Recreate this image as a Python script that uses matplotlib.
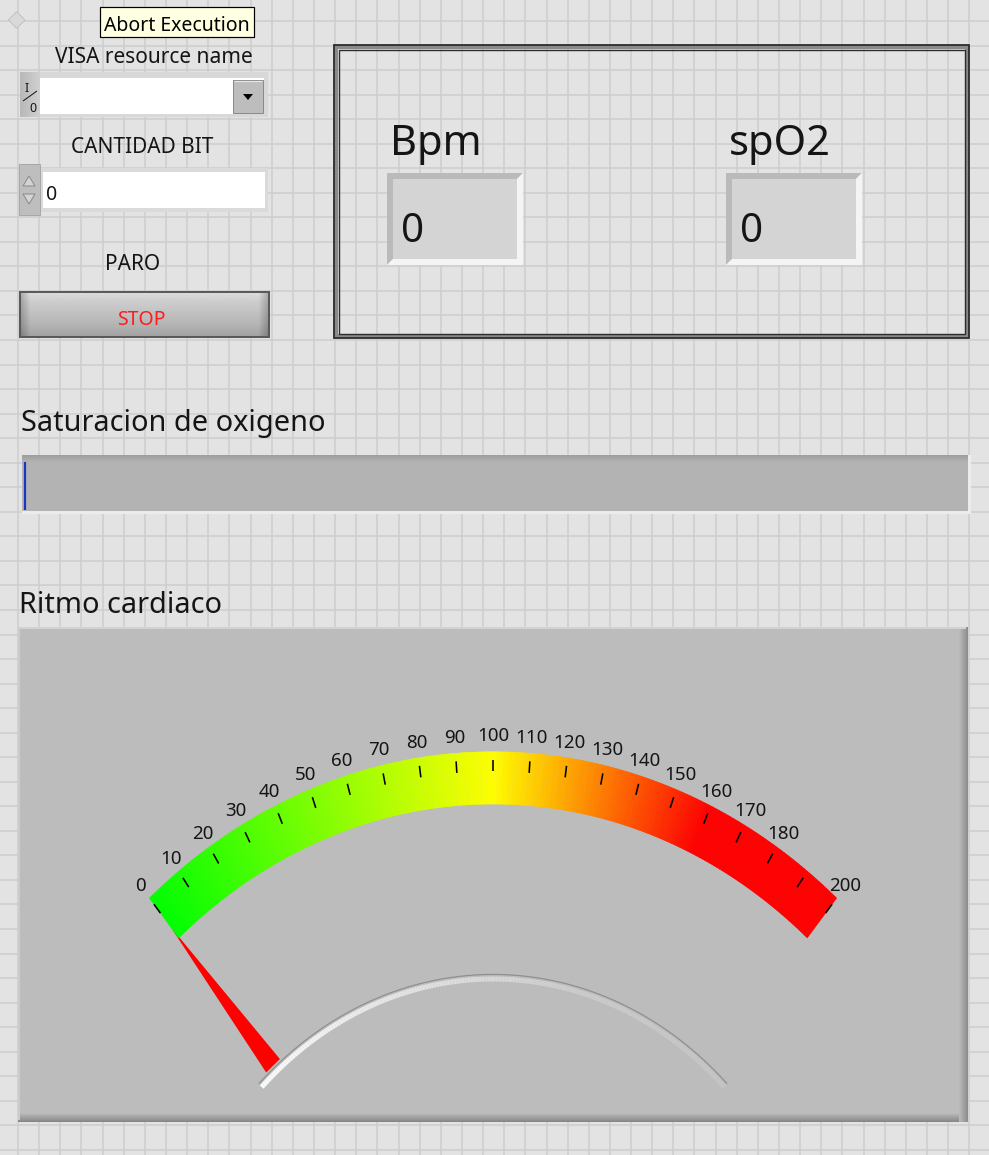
import matplotlib
matplotlib.use('Agg')
import matplotlib.pyplot as plt
import numpy as np
from matplotlib.patches import Rectangle, Polygon
from matplotlib.collections import PolyCollection, LineCollection
from matplotlib.colors import LinearSegmentedColormap, to_rgb

plt.rcParams['font.family'] = ['Noto Sans', 'DejaVu Sans']

# front panel values
tooltip_text = 'Abort Execution'
visa_label = 'VISA resource name'
bit_label = 'CANTIDAD BIT'
stop_label = 'PARO'
stop_text = 'STOP'
cantidad_bit = 0
bpm_value = 0
spo2_value = 0
saturation_value = 0
heart_rate = 0

# meter scale
scale_min, scale_max = 0, 200
scale_ticks = list(range(0, 201, 10))
scale_labels = [str(v) for v in scale_ticks]
scale_labels[19] = ''  # 190 has no label on the meter
band_stops = [0, 100, 160, 200]
band_colors = ['#00ff00', '#ffff00', '#ff0000', '#ff0000']

W, H = 989, 1155
PX = 0.72  # points per pixel at dpi 100
TXT = '#151515'

fig = plt.figure(figsize=(W / 100, H / 100), dpi=100, facecolor='#e3e3e3')
ax = fig.add_axes([0, 0, 1, 1])
ax.set_facecolor('#e3e3e3')


def box(x0, y0, x1, y1, fc, ec='none', lw=0, z=2):
    ax.add_patch(Rectangle((x0, y0), x1 - x0, y1 - y0, facecolor=fc,
                           edgecolor=ec, linewidth=lw * PX, zorder=z))


def grad(x0, y0, x1, y1, c0, c1, vertical=True, z=2):
    a, b = np.array(to_rgb(c0)), np.array(to_rgb(c1))
    f = np.linspace(0, 1, 64)[:, None]
    g = a * (1 - f) + b * f
    img = g[:, None, :] if vertical else g[None, :, :]
    ax.imshow(img, extent=(x0, x1, y1, y0), aspect='auto',
              interpolation='bilinear', zorder=z)


def line(xs, ys, c, lw, z=3):
    ax.plot(xs, ys, color=c, lw=lw * PX, zorder=z, solid_capstyle='butt')


# panel grid
ax.vlines(np.arange(18, W, 21.14), 0, H, colors='#cecece', lw=1.6 * PX, zorder=1)
ax.hlines(np.arange(21 - 24.54, H, 24.54), 0, W, colors='#cecece', lw=1.6 * PX, zorder=1)

# run arrow diamond + tooltip
ax.add_patch(Polygon([(8.4, 20), (16.7, 11.7), (25, 20), (16.7, 28.3)],
                     facecolor='#d9d9d9', edgecolor='#c2c2c2', lw=PX, zorder=2))
box(100, 7, 254, 37, '#ffffe1', 'black', 1.2, z=3)
ax.text(177, 31, tooltip_text, ha='center', va='baseline', fontsize=14, color='black', zorder=4)

# VISA resource control
ax.text(153.5, 63, visa_label, ha='center', va='baseline', fontsize=15, color=TXT, zorder=4)
box(20, 72, 268, 117, '#d8d8d8')
grad(20, 72, 40, 117, '#b8b8b8', '#d0d0d0', vertical=False)
box(40, 78, 264, 114, 'white')
box(233, 80, 263, 113, '#bdbdbd', '#8a8a8a', 1.0, z=3)
line([234, 262], [81, 81], '#e6e6e6', 1.2, z=4)
ax.add_patch(Polygon([(243, 94), (253, 94), (248, 100)], facecolor='black', zorder=4))
ax.text(27, 92, 'I', ha='center', va='baseline', fontsize=9, color=TXT, zorder=4)
ax.text(33, 112, '0', ha='center', va='baseline', fontsize=9, color=TXT, zorder=4)
line([23, 37], [101, 91], TXT, 1.0, z=4)

# CANTIDAD BIT numeric control
ax.text(141.7, 153, bit_label, ha='center', va='baseline', fontsize=15, color=TXT, zorder=4)
box(40, 168, 268, 212, '#dadada')
box(43, 172, 265, 208, 'white')
ax.add_patch(Rectangle((18.5, 164), 21, 51, facecolor='#bebebe', edgecolor='#a8a8a8',
                       lw=PX, zorder=3))
ax.add_patch(Polygon([(23, 186), (29, 176), (35, 186)], facecolor='#d4d4d4',
                     edgecolor='#8a8a8a', lw=PX, zorder=4))
ax.add_patch(Polygon([(23, 194), (29, 204), (35, 194)], facecolor='#d4d4d4',
                     edgecolor='#8a8a8a', lw=PX, zorder=4))
ax.text(46, 200, str(cantidad_bit), ha='left', va='baseline', fontsize=14, color=TXT, zorder=4)

# PARO stop button
ax.text(132.5, 270, stop_label, ha='center', va='baseline', fontsize=15, color=TXT, zorder=4)
box(19, 291, 270, 338, '#5a5a5a')
gv = np.concatenate([np.linspace(0.86, 0.80, 10), np.linspace(0.80, 0.72, 20), np.linspace(0.72, 0.64, 14)])
gh = np.ones(250)
gh[:10] = np.linspace(0.80, 1.0, 10)
gh[-10:] = np.linspace(1.0, 0.80, 10)
img = np.clip(gv[:, None] * gh[None, :], 0, 1)
ax.imshow(np.dstack([img] * 3), extent=(21, 268, 336, 293), aspect='auto',
          interpolation='bilinear', zorder=3)
ax.text(141.7, 325, stop_text, ha='center', va='baseline', fontsize=14, color='#ff1c1c', zorder=4)

# cluster with Bpm / spO2 indicators
ax.add_patch(Rectangle((336, 47), 631, 289, facecolor='none', edgecolor='#8a8a8a',
                       lw=4 * PX, zorder=3))
ax.add_patch(Rectangle((334, 45), 635, 293, facecolor='none', edgecolor='#2c2c2c',
                       lw=1.8 * PX, zorder=4))
ax.add_patch(Rectangle((338.5, 49.5), 626, 284, facecolor='none', edgecolor='#2c2c2c',
                       lw=1.4 * PX, zorder=4))

for name, val, x0 in [('Bpm', bpm_value, 387), ('spO2', spo2_value, 726)]:
    x1, y0, y1, b = x0 + 136, 173, 265, 6
    ax.add_patch(Polygon([(x0, y0), (x1, y0), (x1 - b, y0 + b), (x0 + b, y0 + b),
                          (x0 + b, y1 - b), (x0, y1)], facecolor='#bababa', zorder=3))
    ax.add_patch(Polygon([(x1, y0), (x1, y1), (x0, y1), (x0 + b, y1 - b),
                          (x1 - b, y1 - b), (x1 - b, y0 + b)], facecolor='#f4f4f4', zorder=3))
    box(x0 + b, y0 + b, x1 - b, y1 - b, '#d4d4d4', z=3)
    ax.text(x0 + 3, 155, name, ha='left', va='baseline', fontsize=30, color=TXT, zorder=4)
    ax.text(x0 + 14, 241.5, str(val), ha='left', va='baseline', fontsize=29, color=TXT, zorder=4)

# Saturacion de oxigeno bar
ax.text(21, 431.5, 'Saturacion de oxigeno', ha='left', va='baseline', fontsize=20.8, color=TXT, zorder=4)
box(22, 455, 971, 514, '#ececec')
box(22, 455, 968, 511, '#b3b3b3')
grad(22, 455, 968, 462, '#9e9e9e', '#b3b3b3', z=3)
sat_x = 25 + saturation_value / 100 * (968 - 25)
line([sat_x, sat_x], [462, 510], '#1a35c4', 2.2, z=4)

# Ritmo cardiaco meter
ax.text(19, 613, 'Ritmo cardiaco', ha='left', va='baseline', fontsize=20.8, color=TXT, zorder=4)
box(18, 627, 968, 1122, '#bcbcbc')
grad(18, 1113, 968, 1122, '#bcbcbc', '#858585', z=2)
grad(959, 627, 968, 1122, '#bcbcbc', '#8c8c8c', vertical=False, z=2)
line([18, 966], [628, 628], '#d2d2d2', 2)
line([19, 19], [628, 1120], '#cccccc', 2)

cx, cy, sy = 493, 1364, 1.156
r_out, r_in = 529.6, 484.4
half_span = 40.45


def ang(v):
    return np.radians(-half_span + (v - scale_min) / (scale_max - scale_min) * 2 * half_span)


def pt(r, t, w=0.0):
    X = r * np.sin(t) + w * np.cos(t)
    Y = r * np.cos(t) - w * np.sin(t)
    return cx + X, cy - sy * Y


cmap = LinearSegmentedColormap.from_list(
    'meter', list(zip(np.array(band_stops) / scale_max, band_colors)))
vv = np.linspace(scale_min, scale_max, 401)
polys, cols = [], []
for a, b in zip(vv[:-1], vv[1:]):
    ta, tb = ang(a), ang(b)
    polys.append([pt(r_out, ta), pt(r_out, tb), pt(r_in, tb), pt(r_in, ta)])
    cols.append(cmap((a + b) / 2 / scale_max))
ax.add_collection(PolyCollection(polys, facecolors=cols, edgecolors=cols,
                                 linewidths=0.4, zorder=5))

for v, lab in zip(scale_ticks, scale_labels):
    t = ang(v)
    p0, p1 = pt(r_out - 7, t), pt(r_out - 17, t)
    line([p0[0], p1[0]], [p0[1], p1[1]], 'black', 1.6, z=6)
    if lab:
        lx, ly = pt(543, t)
        ax.text(lx, ly, lab, ha='center', va='center', fontsize=13.5, color=TXT, zorder=6)

# needle
tn = ang(heart_rate)
ax.add_patch(Polygon([pt(497, tn), pt(339, tn, 9), pt(339, tn, -9)],
                     facecolor='#ff0000', edgecolor='none', zorder=4))

# pivot cover arc
tc = np.radians(np.linspace(-44, 44, 181))
edge = np.array([pt(337, t) for t in tc])
line(edge[:, 0], edge[:, 1], '#8e8e8e', 1.2, z=6)
hl = np.array([pt(333, t) for t in tc])
segs = np.stack([hl[:-1], hl[1:]], axis=1)
hcmap = LinearSegmentedColormap.from_list('hl', ['#fbfbfb', '#e2e2e2', '#cbcbcb', '#c4c4c4'])
ax.add_collection(LineCollection(segs, colors=hcmap(np.linspace(0, 1, len(segs))),
                                 linewidths=5 * PX, zorder=6))

ax.set_xlim(0, W)
ax.set_ylim(H, 0)
ax.axis('off')
fig.savefig('out.png', dpi=100, facecolor=fig.get_facecolor())
